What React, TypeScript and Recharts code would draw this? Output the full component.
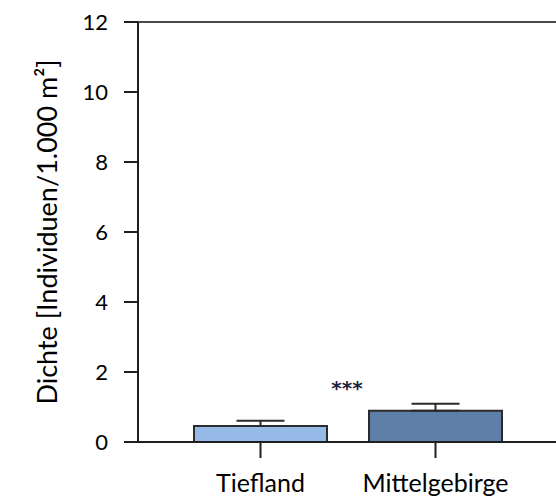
import React from "react"
import {
  BarChart,
  Bar,
  XAxis,
  YAxis,
  Cell,
  ErrorBar,
  ReferenceLine,
} from "recharts"

const categories = ["Tiefland", "Mittelgebirge"]
const densities = [0.46, 0.89]
const upperErrors = [0.15, 0.2]
const yTicks = [0, 2, 4, 6, 8, 10, 12]
const barColors = ["#97b9e8", "#5f7fa9"]

const data = categories.map((name, i) => ({
  name,
  value: densities[i],
  err: [0, upperErrors[i]],
}))

const font = "Lato, 'Open Sans', sans-serif"
const axisColor = "#1f1f1f"

export default function App() {
  return (
    <div style={{ position: "absolute", left: 0, top: 0, background: "#fff" }}>
      <BarChart
        width={556}
        height={499}
        data={data}
        margin={{ top: 22, right: 0, bottom: 0, left: 0 }}
        barCategoryGap={21}
      >
        <ReferenceLine y={12} stroke="#4a4a4a" strokeWidth={2} />
        <ReferenceLine
          y={1.55}
          stroke="none"
          label={{ value: "***", position: "center", fill: "#1b2340", fontSize: 20, fontFamily: "'DejaVu Sans', sans-serif", fontWeight: 700 }}
        />
        <XAxis
          dataKey="name"
          height={57}
          padding={{ left: 35, right: 33 }}
          axisLine={{ stroke: axisColor, strokeWidth: 2 }}
          tickLine={{ stroke: axisColor, strokeWidth: 2 }}
          tickSize={16}
          tickMargin={16}
          tick={{ fill: "#000", fontSize: 25, fontFamily: font }}
        />
        <YAxis
          domain={[0, 12]}
          ticks={yTicks}
          width={138}
          axisLine={{ stroke: axisColor, strokeWidth: 2 }}
          tickLine={{ stroke: axisColor, strokeWidth: 2 }}
          tickSize={14}
          tickMargin={16}
          tick={{ fill: "#000", fontSize: 22, fontFamily: font }}
          label={{
            value: "Dichte [Individuen/1.000 m²]",
            angle: -90,
            position: "insideLeft",
            offset: 47,
            style: { textAnchor: "middle", fill: "#000", fontSize: 27, fontFamily: font },
          }}
        />
        <Bar dataKey="value" stroke="#2b2b2b" strokeWidth={2} isAnimationActive={false}>
          {data.map((d, i) => (
            <Cell key={d.name} fill={barColors[i]} />
          ))}
          <ErrorBar dataKey="err" width={24} stroke="#2b2b2b" strokeWidth={2} direction="y" />
        </Bar>
      </BarChart>
    </div>
  )
}
